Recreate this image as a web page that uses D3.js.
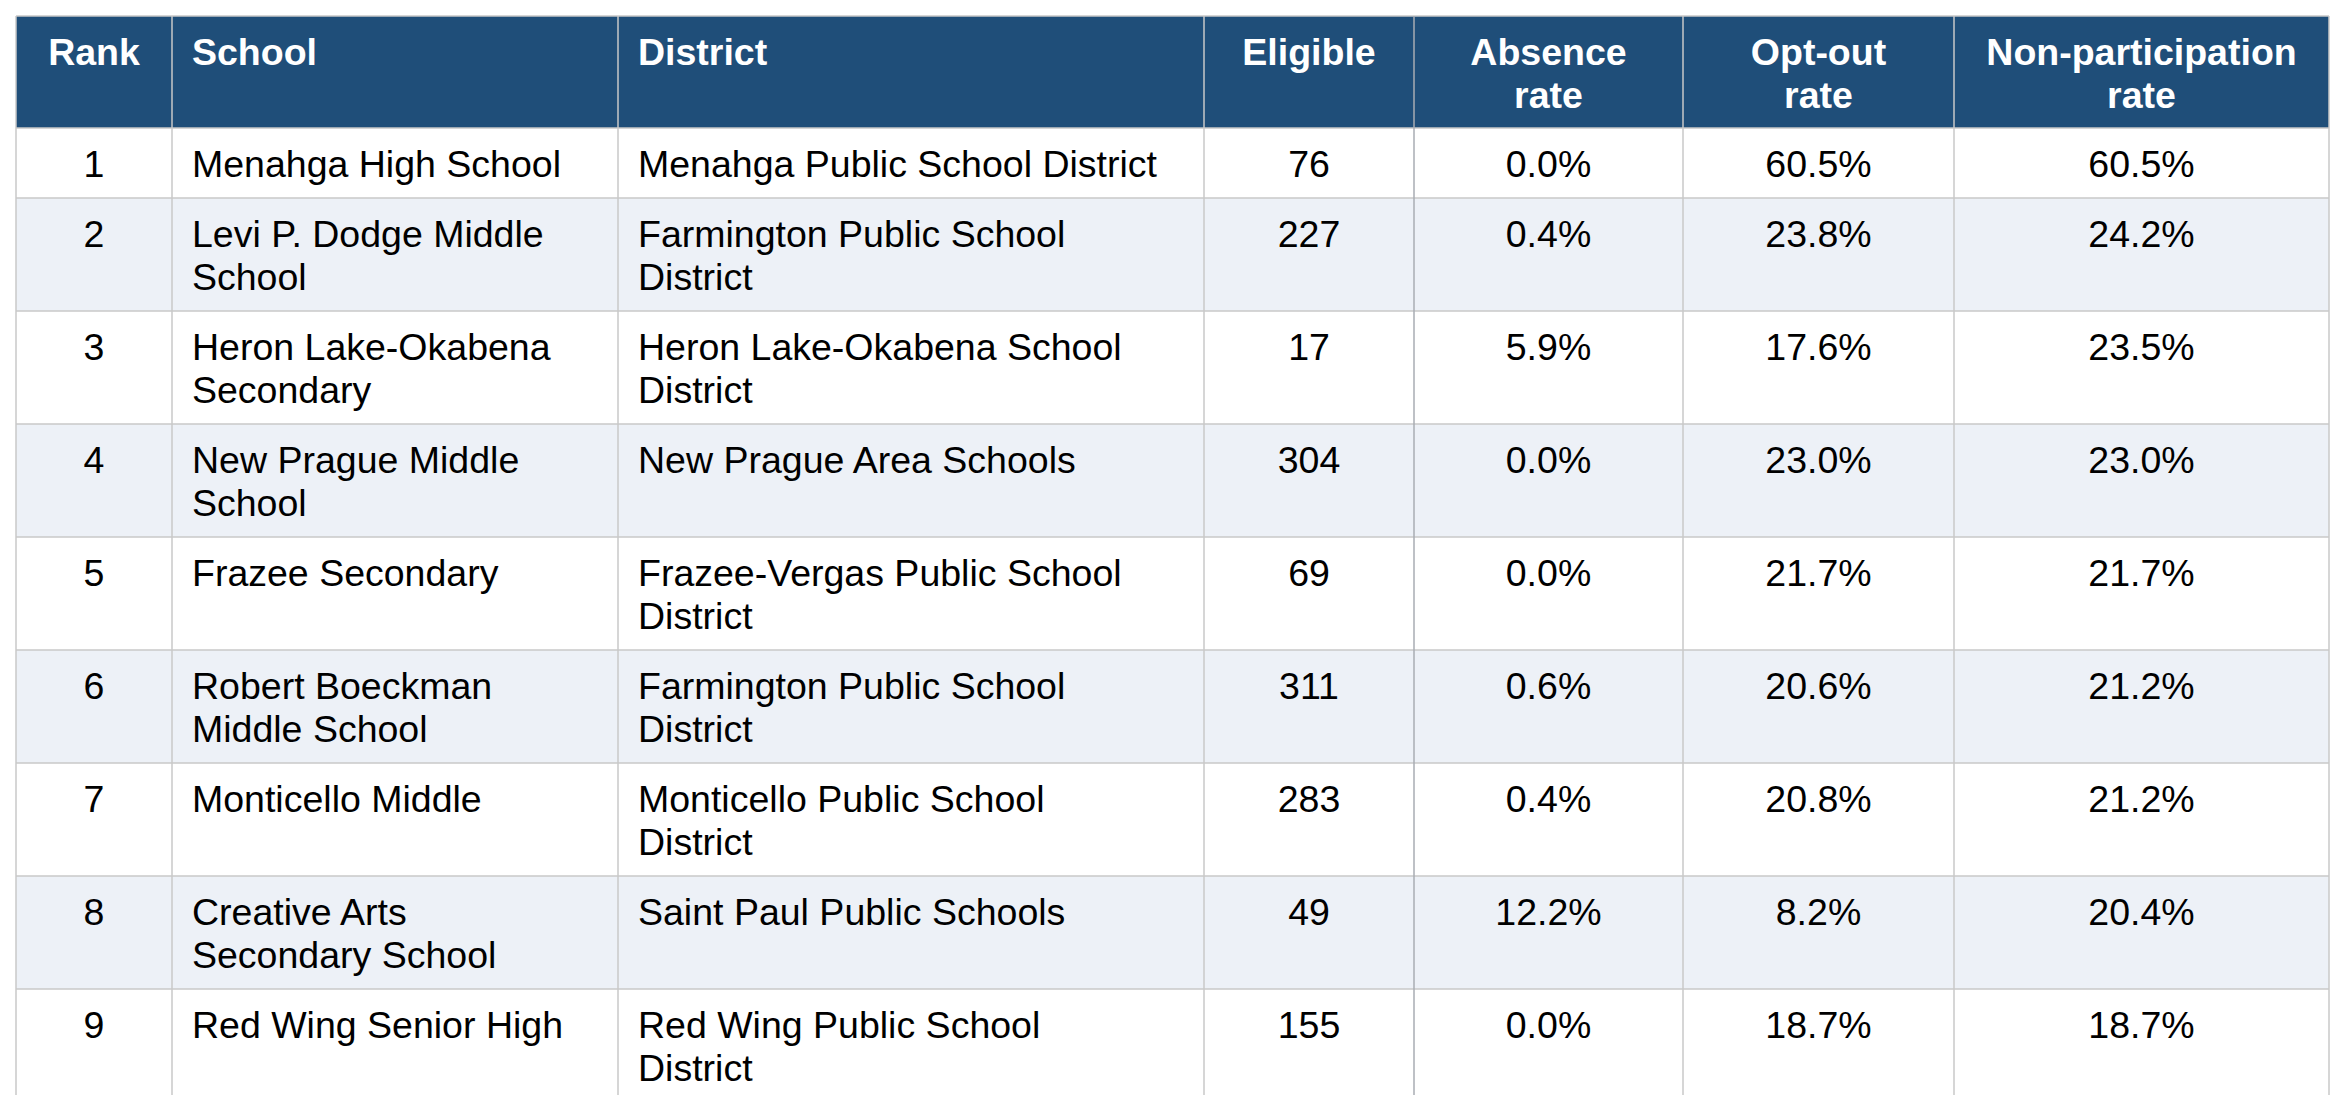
<!DOCTYPE html>
<html><head><meta charset="utf-8">
<script src="https://cdn.jsdelivr.net/npm/d3@7"></script>
<style>body{margin:0;background:#fff}text{font-family:"Liberation Sans",Arial,sans-serif}</style>
</head><body><svg id="chart" width="2346" height="1095"></svg>
<script>
var headers = ["Rank", "School", "District", "Eligible", "Absence rate", "Opt-out rate", "Non-participation rate"];
var ranks = [1, 2, 3, 4, 5, 6, 7, 8, 9, 10];
var schools = ["Menahga High School", "Levi P. Dodge Middle School", "Heron Lake-Okabena Secondary", "New Prague Middle School",
  "Frazee Secondary", "Robert Boeckman Middle School", "Monticello Middle", "Creative Arts Secondary School",
  "Red Wing Senior High", "Greenway Middle"];
var districts = ["Menahga Public School District", "Farmington Public School District", "Heron Lake-Okabena School District",
  "New Prague Area Schools", "Frazee-Vergas Public School District", "Farmington Public School District",
  "Monticello Public School District", "Saint Paul Public Schools", "Red Wing Public School District", "Greenway Public School District"];
var eligible = [76, 227, 17, 304, 69, 311, 283, 49, 155, 60];
var absence = [0.0, 0.4, 5.9, 0.0, 0.0, 0.6, 0.4, 12.2, 0.0, 0.0];
var optout = [60.5, 23.8, 17.6, 23.0, 21.7, 20.6, 20.8, 8.2, 18.7, 18.3];
var nonpart = [60.5, 24.2, 23.5, 23.0, 21.7, 21.2, 21.2, 20.4, 18.7, 18.3];

var colEdges = [16, 172, 618, 1204, 1414, 1683, 1954, 2329];
var align = ["middle", "start", "start", "middle", "middle", "middle", "middle"];
var pct = function(v){ return v.toFixed(1) + "%"; };
var rows = ranks.map(function(r, i){
  return [String(r), schools[i], districts[i], String(eligible[i]), pct(absence[i]), pct(optout[i]), pct(nonpart[i])];
});

var svg = d3.select("#chart");
var fs = 37.5, lh = 43, pad = 20, wrapPad = 30, top0 = 16;
var x = function(c){ return colEdges[c]; };

function wrap(str, width, bold){
  var t = svg.append("text").style("font-size", fs + "px").style("font-weight", bold ? "bold" : "normal");
  var words = str.split(" "), lines = [], cur = "";
  words.forEach(function(w){
    var test = cur ? cur + " " + w : w;
    t.text(test);
    if (cur && t.node().getComputedTextLength() > width) { lines.push(cur); cur = w; } else cur = test;
  });
  lines.push(cur); t.remove();
  return lines;
}

function drawRow(cells, y, bold, fill, color){
  var wrapped = cells.map(function(s, c){ return wrap(s, x(c+1) - x(c) - 2*wrapPad, bold); });
  var n = d3.max(wrapped, function(l){ return l.length; });
  var h = bold ? 112 : 27 + lh * n;
  var g = svg.append("g");
  g.append("rect").attr("x", x(0)).attr("y", y).attr("width", x(7) - x(0)).attr("height", h).attr("fill", fill);
  wrapped.forEach(function(lines, c){
    var tx = align[c] === "middle" ? (x(c) + x(c+1)) / 2 : x(c) + pad;
    var t = g.append("text").attr("x", tx).attr("y", y + 49).attr("text-anchor", align[c])
      .attr("fill", color).style("font-size", fs + "px").style("font-weight", bold ? "bold" : "normal");
    t.selectAll("tspan").data(lines).enter().append("tspan")
      .attr("x", tx).attr("dy", function(d, k){ return k ? lh : 0; }).text(function(d){ return d; });
  });
  return h;
}

var y = top0;
var hh = drawRow(headers, y, true, "#1f4e79", "#fff");
var rowTops = [y];
y += hh;
rows.forEach(function(r, i){
  rowTops.push(y);
  y += drawRow(r, y, false, i % 2 ? "#edf1f7" : "#fff", "#000");
});
rowTops.push(y);

svg.append("g").selectAll("line").data(rowTops).enter().append("line")
  .attr("x1", x(0)).attr("x2", x(7)).attr("y1", function(d){ return d; }).attr("y2", function(d){ return d; })
  .attr("stroke", "#c8c8c8").attr("stroke-width", 1.5);
svg.append("g").selectAll("line").data(colEdges).enter().append("line")
  .attr("x1", function(d){ return d; }).attr("x2", function(d){ return d; })
  .attr("y1", top0).attr("y2", y)
  .attr("stroke", function(d, i){ return i === 4 ? "#a9acb3" : "#c8c8c8"; }).attr("stroke-width", 1.5);
</script></body></html>
